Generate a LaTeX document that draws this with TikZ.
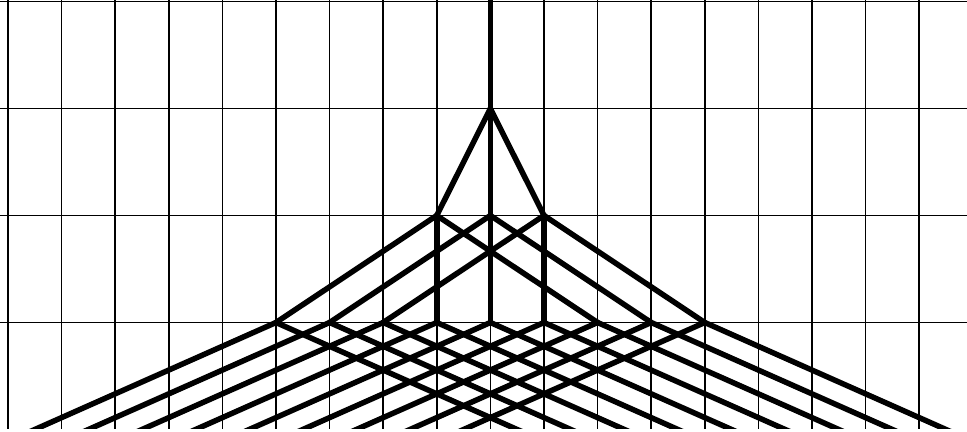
\documentclass[tikz,border=0pt]{standalone}
\usetikzlibrary{calc}

\begin{document}
\begin{tikzpicture}[
    x=53.6pt, y=107pt,
    gridline/.style={draw=black, line width=1.5pt},
    branch/.style={draw=black, line width=5.5pt, line cap=round, line join=round}
]
\useasboundingbox (-9.149,0.014) rectangle (8.892,-4.023);
\begin{scope}
\clip (-9.149,0.014) rectangle (8.892,-3.986);

% grid
\foreach \gx in {-9,...,8}
    \draw[gridline] (\gx,0.1) -- (\gx,-4.1);
\foreach \gy in {0,-1,-2,-3}
    \draw[gridline] (-9.2,\gy) -- (9,\gy);

% tree points
\coordinate (root) at (0,0.2);
\coordinate (a) at (0,-1);
\foreach \j in {-1,0,1}
    \coordinate (b\j) at (\j,-2);
\foreach \i in {-4,...,4}
    \coordinate (c\i) at (\i,-3);
\foreach \i in {-4,...,4} {
    \coordinate (dl\i) at ($(c\i)+(-9,-2)$);
    \coordinate (dr\i) at ($(c\i)+(9,-2)$);
}

% branches
\draw[branch] (root) -- (a);
\draw[branch] (a) -- (b-1);
\draw[branch] (a) -- (b0);
\draw[branch] (a) -- (b1);
\draw[branch] (b-1) -- (c-4);
\draw[branch] (b-1) -- (c-1);
\draw[branch] (b-1) -- (c2);
\draw[branch] (b0) -- (c-3);
\draw[branch] (b0) -- (c0);
\draw[branch] (b0) -- (c3);
\draw[branch] (b1) -- (c-2);
\draw[branch] (b1) -- (c1);
\draw[branch] (b1) -- (c4);
\foreach \i in {-4,...,4} {
    \draw[branch] (c\i) -- (dl\i);
    \draw[branch] (c\i) -- (dr\i);
}
\end{scope}
\end{tikzpicture}
\end{document}
